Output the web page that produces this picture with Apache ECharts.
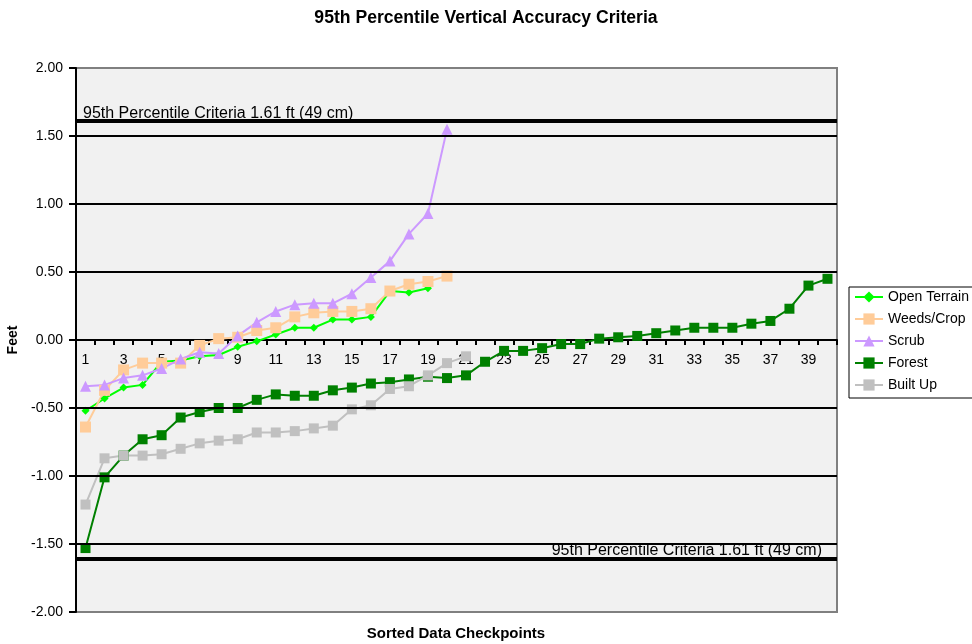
<!DOCTYPE html>
<html>
<head>
<meta charset="utf-8">
<script src="https://cdn.jsdelivr.net/npm/echarts@6/dist/echarts.min.js"></script>
<style>
html, body { margin: 0; padding: 0; background: #fff; }
#chart { width: 972px; height: 644px; }
</style>
</head>
<body>
<div id="chart"></div>
<script>
// sorted checkpoint errors (feet)
var checkpoints = [];
for (var i = 1; i <= 40; i++) checkpoints.push(String(i));

var openTerrain = [-0.52, -0.43, -0.35, -0.33, -0.16, -0.15, -0.12, -0.11, -0.05, -0.01,
	0.04, 0.09, 0.09, 0.15, 0.15, 0.17, 0.36, 0.35, 0.38];
var weedsCrop = [-0.64, -0.37, -0.22, -0.17, -0.17, -0.17, -0.04, 0.01, 0.02, 0.07,
	0.09, 0.17, 0.20, 0.21, 0.21, 0.23, 0.36, 0.41, 0.43, 0.47];
var scrub = [-0.34, -0.33, -0.28, -0.26, -0.21, -0.14, -0.09, -0.10, 0.03, 0.13,
	0.21, 0.26, 0.27, 0.27, 0.34, 0.46, 0.58, 0.78, 0.93, 1.55];
var forest = [-1.53, -1.01, -0.85, -0.73, -0.70, -0.57, -0.53, -0.50, -0.50, -0.44,
	-0.40, -0.41, -0.41, -0.37, -0.35, -0.32, -0.31, -0.29, -0.27, -0.28,
	-0.26, -0.16, -0.08, -0.08, -0.06, -0.03, -0.03, 0.01, 0.02, 0.03,
	0.05, 0.07, 0.09, 0.09, 0.09, 0.12, 0.14, 0.23, 0.40, 0.45];
var builtUp = [-1.21, -0.87, -0.85, -0.85, -0.84, -0.80, -0.76, -0.74, -0.73, -0.68,
	-0.68, -0.67, -0.65, -0.63, -0.51, -0.48, -0.36, -0.34, -0.26, -0.17, -0.12];

var seriesNames = ['Open Terrain', 'Weeds/Crop', 'Scrub', 'Forest', 'Built Up'];
var gridValues = [-1.5, -1.0, -0.5, 0.5, 1.0, 1.5];
var criteria = 1.61;
var criteriaText = '95th Percentile Criteria 1.61 ft (49 cm)';

var FONT = '"Liberation Sans", Arial, sans-serif';

var chart = echarts.init(document.getElementById('chart'));

function lineSeries(name, data, color, symbol, size) {
	return {
		name: name,
		type: 'line',
		data: data,
		symbol: symbol,
		symbolSize: size,
		lineStyle: { color: color, width: 2 },
		itemStyle: { color: color },
		animation: false
	};
}

var guideLines = [];
for (var g = 0; g < gridValues.length; g++) {
	guideLines.push({ yAxis: gridValues[g], lineStyle: { color: '#000', width: 2, type: 'solid' }, label: { show: false } });
}
guideLines.push({
	yAxis: criteria,
	lineStyle: { color: '#000', width: 4, type: 'solid' },
	label: { show: true, position: 'insideStartTop', formatter: criteriaText, color: '#000', fontSize: 16, fontFamily: FONT, distance: [7, -1] }
});
guideLines.push({
	yAxis: -criteria,
	lineStyle: { color: '#000', width: 4, type: 'solid' },
	label: { show: true, position: 'insideEndTop', formatter: criteriaText, color: '#000', fontSize: 16, fontFamily: FONT, distance: [15, 0] }
});

var option = {
	animation: false,
	title: {
		text: '95th Percentile Vertical Accuracy Criteria',
		left: 'center',
		top: 4,
		textStyle: { fontSize: 17.6, fontWeight: 'bold', color: '#000', fontFamily: FONT }
	},
	legend: {
		data: seriesNames,
		orient: 'vertical',
		left: 849,
		top: 287,
		padding: [3, 40, 6, 5],
		itemGap: 8,
		itemWidth: 28,
		itemHeight: 14,
		borderColor: '#000',
		borderWidth: 1,
		borderRadius: 0,
		backgroundColor: '#fff',
		textStyle: { fontSize: 14, color: '#000', fontFamily: FONT, padding: [0, 0, 0, 0] }
	},
	grid: {
		show: true,
		left: 76,
		top: 68,
		width: 761,
		height: 544,
		outerBoundsMode: 'none',
		backgroundColor: '#f1f1f1',
		borderColor: '#808080',
		borderWidth: 2
	},
	xAxis: {
		type: 'category',
		data: checkpoints,
		boundaryGap: true,
		position: 'bottom',
		offset: -272,
		axisLine: { onZero: false, lineStyle: { color: '#000', width: 2 } },
		axisTick: { show: true, interval: 0, length: 5, lineStyle: { color: '#000', width: 2 } },
		axisLabel: { interval: 1, fontSize: 14, color: '#000', fontFamily: FONT, margin: 13 },
		splitLine: { show: false }
	},
	yAxis: {
		type: 'value',
		min: -2,
		max: 2,
		interval: 0.5,
		name: 'Feet',
		nameLocation: 'middle',
		nameGap: 53,
		nameTextStyle: { fontSize: 14, fontWeight: 'bold', color: '#000', fontFamily: FONT },
		axisLine: { show: true, lineStyle: { color: '#000', width: 2 } },
		axisTick: { show: true, length: 7, lineStyle: { color: '#000', width: 2 } },
		axisLabel: {
			fontSize: 14, color: '#000', fontFamily: FONT, margin: 13,
			formatter: function (v) { return v.toFixed(2); }
		},
		splitLine: { show: false }
	},
	graphic: [{
		type: 'text',
		x: 456,
		y: 634,
		style: {
			text: 'Sorted Data Checkpoints',
			fill: '#000',
			font: 'bold 15px ' + FONT,
			textAlign: 'center',
			textVerticalAlign: 'middle'
		}
	}],
	series: [
		{
			type: 'line',
			data: [],
			silent: true,
			markLine: { silent: true, symbol: ['none', 'none'], animation: false, data: guideLines }
		},
		lineSeries('Open Terrain', openTerrain, '#00ff00', 'diamond', 8),
		lineSeries('Weeds/Crop', weedsCrop, '#ffcc99', 'rect', 11),
		lineSeries('Scrub', scrub, '#cc99ff', 'triangle', 11),
		lineSeries('Forest', forest, '#008000', 'rect', 10),
		lineSeries('Built Up', builtUp, '#c0c0c0', 'rect', 10)
	]
};
chart.setOption(option);
</script>
</body>
</html>
